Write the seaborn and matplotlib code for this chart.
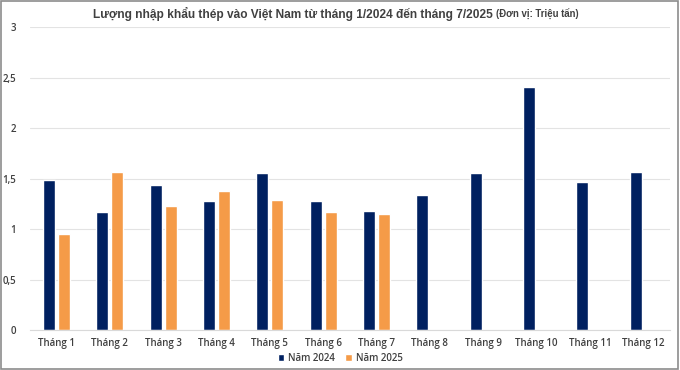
import seaborn as sns
import pandas as pd
import numpy as np
from matplotlib import pyplot as plt
from matplotlib.patches import Rectangle

# data (million tonnes)
months = ["Tháng " + str(i) for i in range(1, 13)]
y2024 = [1.49, 1.17, 1.44, 1.28, 1.55, 1.28, 1.18, 1.34, 1.55, 2.41, 1.47, 1.56]
y2025 = [0.95, 1.56, 1.23, 1.38, 1.29, 1.17, 1.15, np.nan, np.nan, np.nan, np.nan, np.nan]
series = ["Năm 2024", "Năm 2025"]

df = pd.DataFrame({
    "month": months * 2,
    "value": y2024 + y2025,
    "year": [series[0]] * 12 + [series[1]] * 12,
})

sns.set_style("white")
plt.rcParams['font.family'] = ['Open Sans', 'DejaVu Sans']

fig = plt.figure(figsize=(6.8, 3.7), dpi=100)
ax = fig.add_axes([0.044, 0.108, 0.941, 0.819])

sns.barplot(data=df, x="month", y="value", hue="year", order=months, hue_order=series,
            palette=["#002060", "#F59B48"], saturation=1, width=0.56, gap=0.2, ax=ax)

ax.set_ylim(0, 3)
ax.set_yticks([0, 0.5, 1, 1.5, 2, 2.5, 3])
ax.set_yticklabels(["0", "0,5", "1", "1,5", "2", "2,5", "3"])
ax.grid(axis="y", color="#e3e3e3", linewidth=0.8)
ax.set_axisbelow(True)
for s in ["top", "right", "left"]:
    ax.spines[s].set_visible(False)
ax.spines["bottom"].set_color("#d9d9d9")
ax.tick_params(axis="both", length=0, labelsize=7, colors="#404040")
ax.tick_params(axis="x", pad=6)
ax.tick_params(axis="y", pad=10)
for lbl in ax.get_xticklabels() + ax.get_yticklabels():
    lbl.set_fontweight("semibold")
ax.set_xlabel("")
ax.set_ylabel("")

leg = ax.legend(loc="center", bbox_to_anchor=(0.5, 0.031), bbox_transform=fig.transFigure,
                ncol=2, frameon=False, fontsize=7, handlelength=0.7, handleheight=0.7,
                columnspacing=1.0, handletextpad=0.4, labelcolor="#404040")
for t in leg.get_texts():
    t.set_fontweight("semibold")

# title: main part + smaller unit part
t1 = fig.text(0.137, 0.952, "Lượng nhập khẩu thép vào Việt Nam từ tháng 1/2024 đến tháng 7/2025",
              ha="left", va="baseline", fontsize=8.6, color="#404040", fontweight="bold",
              family=["Liberation Sans", "DejaVu Sans"])
fig.canvas.draw()
x_end = fig.transFigure.inverted().transform(t1.get_window_extent().get_points())[1][0]
fig.text(x_end + 0.004, 0.952, "(Đơn vị: Triệu tấn)", ha="left", va="baseline", fontsize=6.9,
         color="#404040", fontweight="bold", family=["Liberation Sans", "DejaVu Sans"])

fig.patches.append(Rectangle((0.002, 0.003), 0.995, 0.994, transform=fig.transFigure,
                             fill=False, edgecolor="#8c8c8c", linewidth=1.2))

plt.savefig("out.png", dpi=100)
